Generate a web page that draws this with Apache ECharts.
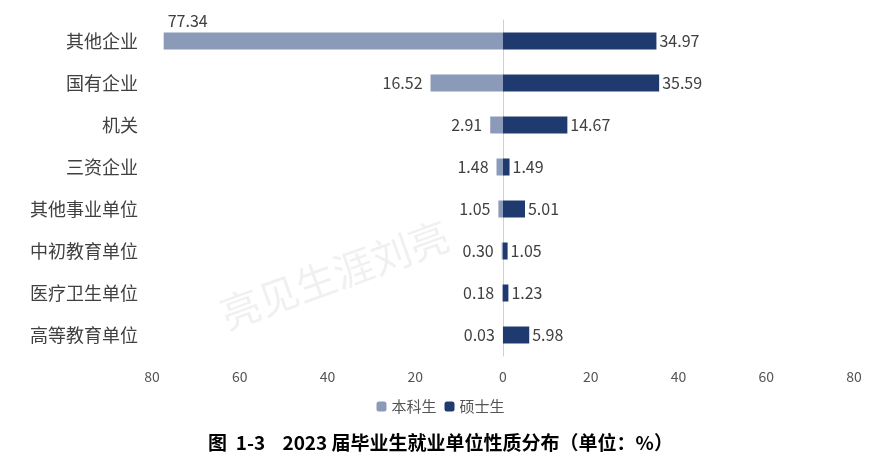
<!DOCTYPE html>
<html><head><meta charset="utf-8">
<script src="https://cdn.jsdelivr.net/npm/echarts@6/dist/echarts.min.js"></script>
<style>html,body{margin:0;padding:0;background:#fff}#c{width:881px;height:467px}</style>
</head><body><div id="c"></div>
<script>
const categories=["其他企业","国有企业","机关","三资企业","其他事业单位","中初教育单位","医疗卫生单位","高等教育单位"];
const undergrad=[77.34,16.52,2.91,1.48,1.05,0.30,0.18,0.03];
const master=[34.97,35.59,14.67,1.49,5.01,1.05,1.23,5.98];
const font='"Noto Sans CJK SC","Noto Sans",sans-serif';
const chart=echarts.init(document.getElementById('c'));
chart.setOption({
  animation:false,
  textStyle:{fontFamily:font},
  title:{text:'图  1-3    2023 届毕业生就业单位性质分布（单位：%）',left:'center',top:428,textStyle:{fontSize:19,fontWeight:'bold',color:'#000',fontFamily:font}},
  graphic:[{type:'text',left:215,top:215,rotation:Math.PI/9,style:{text:'亮见生涯刘亮',fontSize:40,fill:'rgba(0,0,0,0.06)',fontFamily:font}}],
  legend:{bottom:48,itemWidth:10,itemHeight:10,itemGap:8,textStyle:{fontSize:15,color:'#555'},data:['本科生','硕士生']},
  grid:{left:152,right:27,top:20,bottom:111},
  xAxis:{type:'value',min:-80,max:80,interval:20,splitLine:{show:false},axisLine:{show:false},axisTick:{show:false},
    axisLabel:{formatter:v=>Math.abs(v),fontSize:14,color:'#555',margin:14}},
  yAxis:{type:'category',inverse:true,data:categories,axisTick:{show:false},
    axisLine:{lineStyle:{color:'#d0d0d0'}},axisLabel:{fontSize:18,color:'#404040',margin:14}},
  series:[
    {name:'本科生',type:'bar',stack:'a',barWidth:17,itemStyle:{color:'#8c9ab9'},
     data:undergrad.map((v,i)=>i===0?{value:-v,label:{position:[4,-20]}}:-v),
     label:{show:true,position:'left',formatter:p=>Math.abs(p.value).toFixed(2),fontSize:16,color:'#404040',distance:8}},
    {name:'硕士生',type:'bar',stack:'a',barWidth:17,itemStyle:{color:'#1e3a6e'},data:master,
     label:{show:true,position:'right',formatter:p=>p.value.toFixed(2),fontSize:16,color:'#404040',distance:3}}
  ]
});
</script></body></html>
